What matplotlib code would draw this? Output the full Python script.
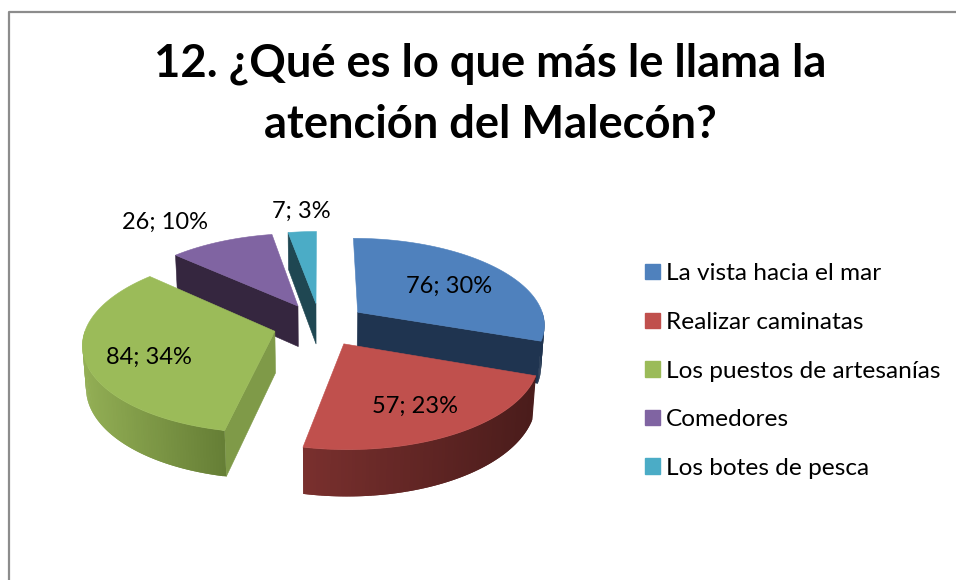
import numpy as np
import matplotlib
matplotlib.use("Agg")
import matplotlib.pyplot as plt
from matplotlib.patches import Polygon, Patch
from matplotlib.colors import to_rgb

categories = ["La vista hacia el mar", "Realizar caminatas", "Los puestos de artesanías", "Comedores", "Los botes de pesca"]
values = [76, 57, 84, 26, 7]
percents = [30, 23, 34, 10, 3]
title = "12. ¿Qué es lo que más le llama la\natención del Malecón?"

top_colors = ["#4F81BD", "#C0504D", "#9BBB59", "#8064A2", "#4BACC6"]
radial_colors = ["#1F3450", "#4A1E1C", "#7F9A48", "#35263F", "#1F4752"]
wall_left = ["#1F3450", "#7A302E", "#93AF55", "#35263F", "#1F4752"]
wall_right = ["#1F3450", "#4A1C1B", "#667F36", "#35263F", "#1F4752"]
label_xy = [(449, 286), (415, 406), (149, 357), (165, 222), (301, 211)]
radial_edge = {0: 1, 2: 0, 3: 0, 4: 0}  # which cut face of each slice looks at the viewer

plt.rcParams["font.family"] = ["Lato", "DejaVu Sans"]

CX, CY, A, B, P, Q, H, EXPLODE = 320.0, 324.5, 188.0, 86.5, 0.13, 0.015, 42.0, 0.25


def project(x, y, z=0.0):
    w = 1 + P * y + Q * z
    return CX + A * x / w, CY - B * y / w + H * z / w


fig = plt.figure(figsize=(9.56, 5.80), dpi=100)
ax = fig.add_axes([0, 0, 1, 1])
ax.set_xlim(0, 956)
ax.set_ylim(580, 0)
ax.axis("off")

# chart frame
ax.plot([9.5, 9.5, 956], [580, 11.5, 11.5], color="#8C8C8C", lw=1.6, solid_capstyle="butt", zorder=0)

frac = np.array(values, dtype=float) / sum(values)
edges = np.concatenate([[0], np.cumsum(frac)]) * 2 * np.pi
order = [4, 3, 0, 2, 1]  # painter's order, far to near


def arc_pts(i, t0, t1, z=0.0, n=80):
    mid = (edges[i] + edges[i + 1]) / 2
    ox, oy = EXPLODE * np.sin(mid), EXPLODE * np.cos(mid)
    t = np.linspace(t0, t1, n)
    return project(ox + np.sin(t), oy + np.cos(t), z)


def apex(i, z=0.0):
    mid = (edges[i] + edges[i + 1]) / 2
    return project(EXPLODE * np.sin(mid), EXPLODE * np.cos(mid), z)


def poly(xs, ys, color, zorder, lw=0.4):
    ax.add_patch(Polygon(np.column_stack([xs, ys]), closed=True, facecolor=color,
                         edgecolor=color if lw else "none", lw=lw, zorder=zorder))


for rank, i in enumerate(order):
    a0, a1 = edges[i], edges[i + 1]
    base = 2 + rank * 2
    ax0, ay0 = apex(i, 0)
    ax1, ay1 = apex(i, 1)
    # radial face that looks towards the viewer
    if i in radial_edge:
        ang = edges[i + radial_edge[i]]
        sx, sy = arc_pts(i, ang, ang, 0, 1)
        bx, by = arc_pts(i, ang, ang, 1, 1)
        poly([ax0, sx[0], bx[0], ax1], [ay0, sy[0], by[0], ay1], radial_colors[i], base)
    # outer wall, visible on the near half, shaded in overlapping strips
    lo, hi = max(a0, np.pi / 2), min(a1, 3 * np.pi / 2)
    if hi > lo:
        n = 90
        xt, yt = arc_pts(i, lo, hi, 0, n + 1)
        xb, yb = arc_pts(i, lo, hi, 1, n + 1)
        xmin, xmax = min(xt), max(xt)
        cl, cr = np.array(to_rgb(wall_left[i])), np.array(to_rgb(wall_right[i]))
        for k in range(n):
            e = min(k + 2, n)
            f = (xt[k] - xmin) / max(xmax - xmin, 1)
            c = tuple(cl + (cr - cl) * f)
            poly([xt[k], xt[e], xb[e], xb[k]], [yt[k], yt[e], yb[e], yb[k]], c, base, lw=0)
    # top face
    xt, yt = arc_pts(i, a0, a1, 0)
    poly(np.r_[ax0, xt], np.r_[ay0, yt], top_colors[i], base + 1)

for (x, y), v, p in zip(label_xy, values, percents):
    ax.text(x, y, f"{v}; {p}%", ha="center", va="center", fontsize=17, color="black", zorder=30)

ax.text(490, 94, title, ha="center", va="center", fontsize=32.6, fontweight="bold",
        color="black", linespacing=1.56, zorder=30)

handles = [Patch(facecolor=c, edgecolor=c) for c in top_colors]
ax.legend(handles, categories, loc="center left", bbox_to_anchor=(645 / 956, 1 - 371 / 580),
          frameon=False, fontsize=17.6, handlelength=0.6, handleheight=0.6, handletextpad=0.25,
          labelspacing=1.13, borderpad=0, borderaxespad=0)

fig.savefig("out.png", dpi=100)
